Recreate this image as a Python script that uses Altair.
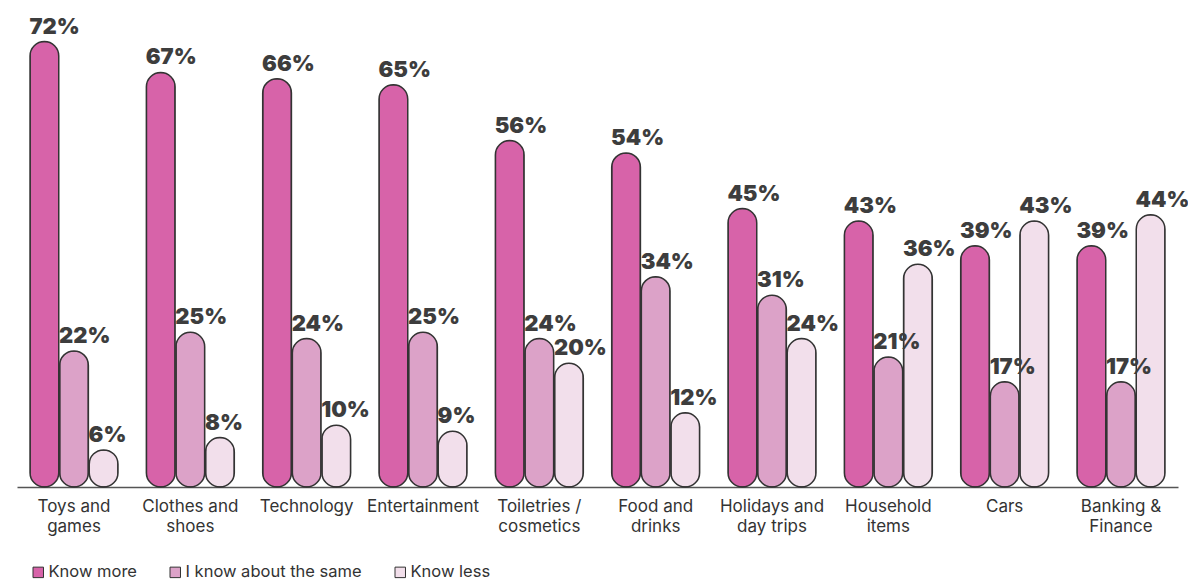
import altair as alt
import pandas as pd

categories = ["Toys and|games", "Clothes and|shoes", "Technology", "Entertainment",
              "Toiletries /|cosmetics", "Food and|drinks", "Holidays and|day trips",
              "Household|items", "Cars", "Banking &|Finance"]
series = ["Know more", "I know about the same", "Know less"]
know_more = [72, 67, 66, 65, 56, 54, 45, 43, 39, 39]
know_same = [22, 25, 24, 25, 24, 34, 31, 21, 17, 17]
know_less = [6, 8, 10, 9, 20, 12, 24, 36, 43, 44]
colors = ["#D763A9", "#DCA2C8", "#F2DFEB"]

rows = []
for i, c in enumerate(categories):
    for s, vals in zip(series, [know_more, know_same, know_less]):
        rows.append({"category": c, "series": s, "value": vals[i]})
df = pd.DataFrame(rows)

W, H = 1161, 464
x = alt.X("category:N", sort=categories, title=None,
          scale=alt.Scale(paddingInner=0.244, paddingOuter=0.112),
          axis=alt.Axis(labelAngle=0, labelExpr="split(datum.label, '|')",
                        labelFont="Inter", labelFontSize=17, labelColor="#333333",
                        labelPadding=11, labelLineHeight=20, ticks=False,
                        domainColor="#555555", domainWidth=1.5, labelBaseline="top"))
xo = alt.XOffset("series:N", sort=series, scale=alt.Scale(paddingInner=0.03))
y = alt.Y("value:Q", scale=alt.Scale(domain=[0, 75], nice=False), axis=None)

bars = alt.Chart(df).mark_bar(cornerRadius=14.5, stroke="#333333", strokeWidth=1.5).encode(
    x=x, xOffset=xo, y=y,
    color=alt.Color("series:N", sort=series,
                    scale=alt.Scale(domain=series, range=colors),
                    legend=alt.Legend(title=None, orient="none", direction="horizontal",
                                      legendX=13, legendY=541, symbolType="square",
                                      symbolSize=110, symbolStrokeColor="#333333",
                                      symbolStrokeWidth=1, labelFont="Inter",
                                      labelFontSize=16.5, labelColor="#333333",
                                      labelOffset=2, columnPadding=30, labelLimit=400)),
)

labels = alt.Chart(df).mark_text(align="left", baseline="alphabetic", dx=-15, dy=-8,
                                 font="Inter", fontSize=22, fontWeight=900,
                                 color="#3d3d3d").encode(
    x=x, xOffset=xo, y=y,
    text=alt.Text("label:N"),
).transform_calculate(label="datum.value + '%'")

chart = alt.layer(bars, labels).properties(
    width=W, height=H,
    padding={"left": 17, "top": 23, "right": 10, "bottom": 96},
    autosize="none",
).configure_view(stroke=None)

chart.save("out.html", embed_options={"renderer": "svg", "actions": False})
